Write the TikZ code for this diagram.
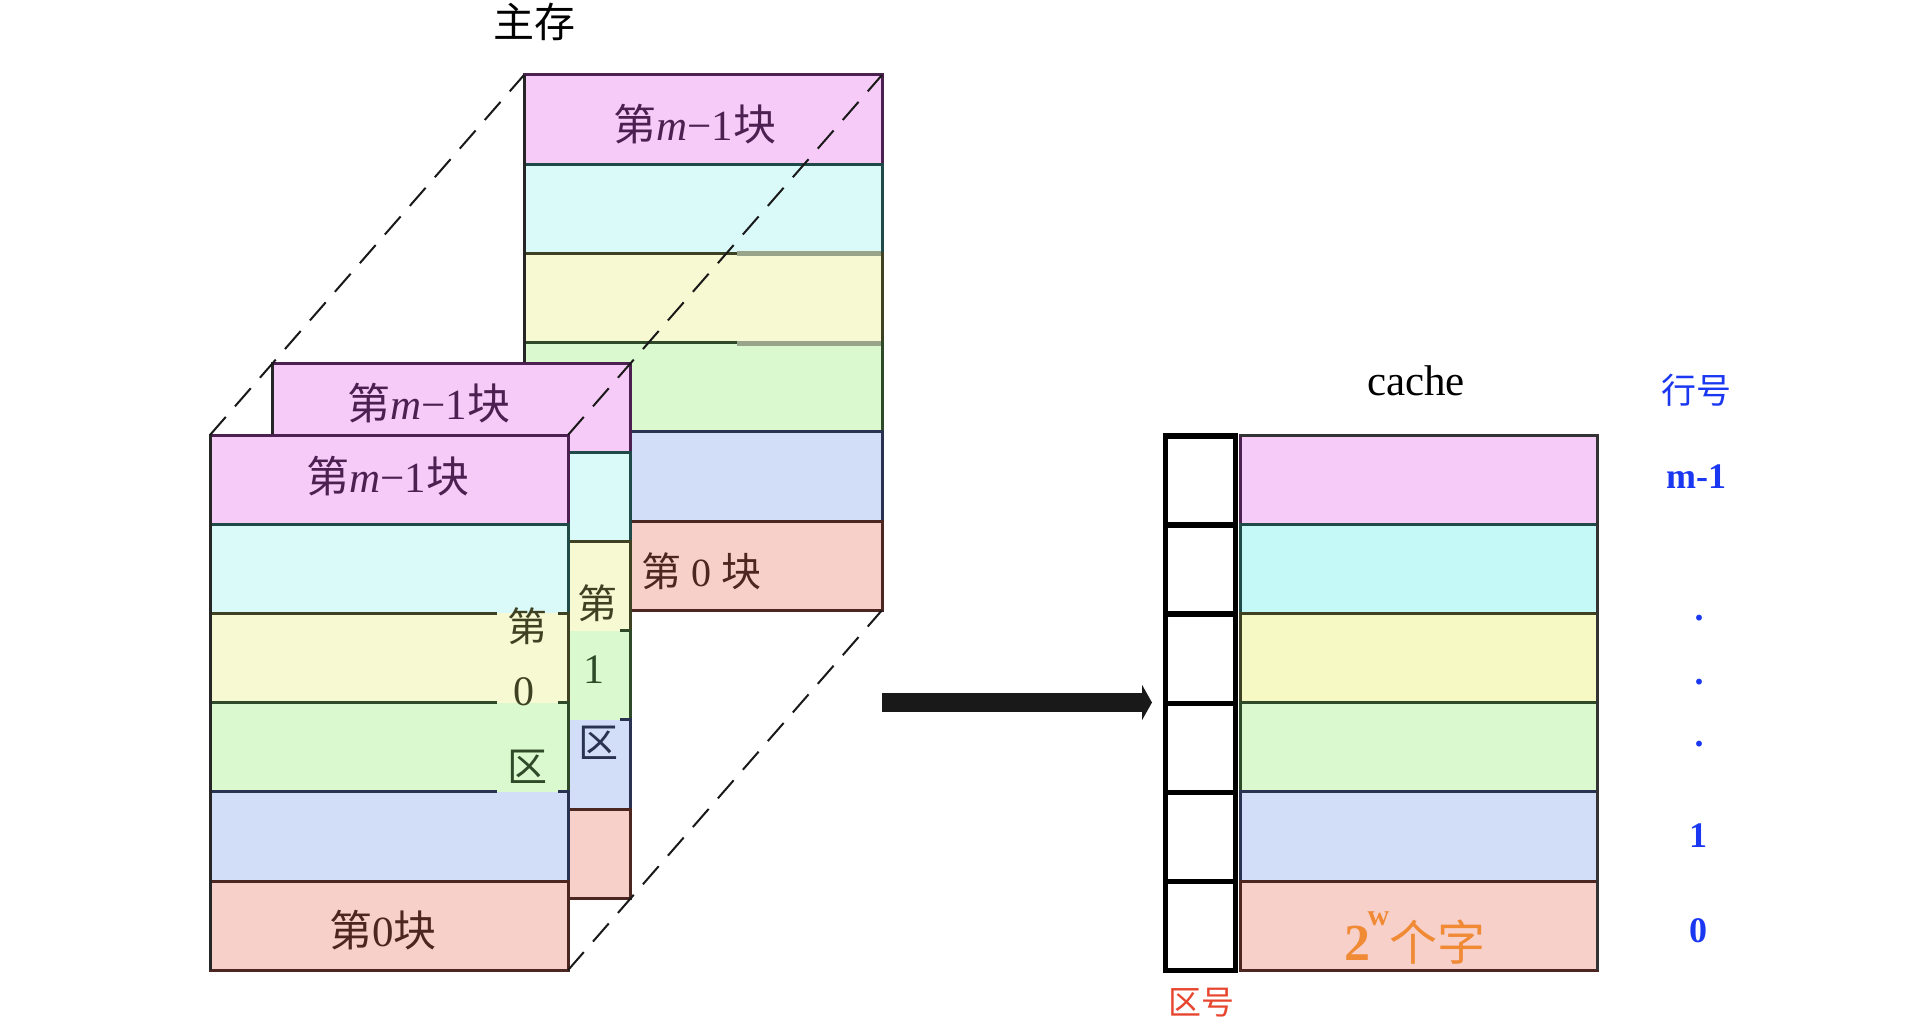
\documentclass[tikz,border=0pt]{standalone}
\usepackage{fontspec}
\setmainfont{Liberation Serif}
\newfontfamily\cjk{Noto Sans CJK SC}
\usetikzlibrary{arrows.meta}
\definecolor{pinkF}{HTML}{F7CBF8}
\definecolor{pinkD}{HTML}{4D2052}
\definecolor{cyanF}{HTML}{DAF9F9}
\definecolor{cyanC}{HTML}{C4F9F8}
\definecolor{cyanD}{HTML}{1F4A48}
\definecolor{yelF}{HTML}{F7F9D2}
\definecolor{yelC}{HTML}{F6F9C4}
\definecolor{yelD}{HTML}{3E4222}
\definecolor{grnF}{HTML}{DAF9CE}
\definecolor{grnD}{HTML}{2E4A28}
\definecolor{bluF}{HTML}{D2DEF8}
\definecolor{bluD}{HTML}{2A3252}
\definecolor{redF}{HTML}{F8D0CA}
\definecolor{redD}{HTML}{4C2620}
\definecolor{lblue}{HTML}{1A38F2}
\definecolor{lred}{HTML}{E8452E}
\definecolor{lorange}{HTML}{F08A35}
\definecolor{artif}{HTML}{98A58A}
\newcommand\memstack[3]{%
  \foreach \f/\d [count=\i from 0] in {pinkF/pinkD,#3/cyanD,yelF/yelD,grnF/grnD,bluF/bluD,redF/redD}{
    \filldraw[fill=\f, draw=\d, line width=3pt] (#1,#2+\i*89.2) rectangle ++(358,89.2);
  }
  \draw[line width=3pt, draw=black!85] (#1,#2) -- ++(0,535.2);
}
\newcommand\gappatch[5]{% x1,x2,y,upper,lower
  \fill[#4] (#1,#3-2.2) rectangle (#2,#3);
  \fill[#5] (#1,#3) rectangle (#2,#3+2.2);
}
\tikzset{
  lbl/.style={inner sep=0pt, font=\fontsize{40}{44}\selectfont},
  blk/.style={inner sep=0pt, font=\fontsize{43}{46}\selectfont},
  dashline/.style={line width=2pt, draw=black!90, dash pattern=on 24pt off 14pt},
  tagcell/.style={line width=5.5pt, draw=black},
  rownum/.style={inner sep=0pt, anchor=base, text=lblue, font=\fontsize{36}{40}\selectfont\bfseries},
}
\begin{document}
\begin{tikzpicture}[x=1pt,y=-1pt]
\useasboundingbox (0,0) rectangle (1912,1032);
\fill[white] (0,0) rectangle (1912,1032);

% back stack
\memstack{524}{75}{cyanF}
\draw[artif, line width=5pt] (737,254) -- (881,254);
\draw[artif, line width=5pt] (737,343.4) -- (881,343.4);
% middle stack
\memstack{272.8}{363}{cyanF}
\gappatch{560}{620}{630.6}{yelF}{grnF}
\gappatch{560}{620}{719.8}{grnF}{bluF}
% front stack
\memstack{210}{435}{cyanF}
\gappatch{497}{558}{613.4}{cyanF}{yelF}
\gappatch{497}{558}{702.6}{yelF}{grnF}
\gappatch{497}{558}{791.8}{grnF}{bluF}

% corner coordinates
\coordinate (fTL) at (210,435);
\coordinate (fTR) at (568,435);
\coordinate (fBR) at (568,970.2);
\coordinate (bTL) at (524,75);
\coordinate (bTR) at (882,75);
\coordinate (bBR) at (882,610.2);
\draw[dashline] (fTL) -- (bTL);
\draw[dashline] (fTR) -- (bTR);
\draw[dashline] (fBR) -- (bBR);

% main memory labels
\node[lbl, font=\fontsize{41}{44}\selectfont\cjk] (title) at (534,22) {主存};
\node[blk, text=pinkD] (bm1) at (695,124) {{\cjk 第}\textit{m}−1{\cjk 块}};
\node[blk, text=pinkD] (mm1) at (429,403) {{\cjk 第}\textit{m}−1{\cjk 块}};
\node[blk, text=pinkD] (fm1) at (388,476) {{\cjk 第}\textit{m}−1{\cjk 块}};
\node[lbl, text=redD] (b0) at (701,571) {{\cjk 第} 0 {\cjk 块}};
\node[blk, text=redD] (f0) at (383,930) {{\cjk 第}0{\cjk 块}};
\node[lbl, text=yelD, font=\fontsize{40}{44}\selectfont\cjk] (fq1) at (527,626) {第};
\node[lbl, text=yelD, font=\fontsize{42}{44}\selectfont] (fq2) at (524,692) {0};
\node[lbl, text=grnD, font=\fontsize{40}{44}\selectfont\cjk] (fq3) at (527,767) {区};
\node[lbl, text=yelD, font=\fontsize{40}{44}\selectfont\cjk] (mq1) at (597,603) {第};
\node[lbl, text=grnD, font=\fontsize{42}{44}\selectfont] (mq2) at (594,670) {1};
\node[lbl, text=bluD, font=\fontsize{40}{44}\selectfont\cjk] (mq3) at (598,743) {区};

% arrow
\coordinate (arrS) at (882,702.5);
\coordinate (arrE) at (1152,702.5);
\draw[line width=19pt, draw=black!90, -{Triangle[length=10pt 0 0, width=35pt 0 0]}] (arrS) -- (arrE);

% cache data rows
\foreach \f/\d [count=\i from 0] in {pinkF/pinkD,cyanC/cyanD,yelC/yelD,grnF/grnD,bluF/bluD,redF/redD}{
  \filldraw[fill=\f, draw=\d, line width=3pt] (1240,435+\i*89.2) rectangle ++(357,89.2);
}
\draw[line width=3pt, draw=black!80] (1597,435) -- (1597,970.2);
\draw[line width=3pt, draw=black!80] (1240,435) -- (1597,435);
% tag cells
\foreach \i in {0,...,5}{
  \draw[tagcell] (1165.5,436+\i*89.1) rectangle ++(70,89.1);
}

% cache labels
\node[inner sep=0pt, anchor=base, font=\fontsize{43}{46}\selectfont] (cachelbl) at (1416,395) {cache};
\node[lbl, text=lblue, font=\fontsize{35}{40}\selectfont\cjk] (hanghao) at (1696,390) {行号};
\node[rownum] (rm1) at (1696,488) {m-1};
\node[rownum] (rd1) at (1699,620.5) {.};
\node[rownum] (rd2) at (1699,684.5) {.};
\node[rownum] (rd3) at (1699,746.5) {.};
\node[rownum] (r1) at (1698,847) {1};
\node[rownum] (r0) at (1698,942) {0};
\node[inner sep=0pt, anchor=base, text=lorange, font=\fontsize{52}{56}\selectfont\bfseries] (words) at (1415,960)
  {2\kern-3pt\raisebox{35pt}{\fontsize{30}{32}\selectfont w}{\mdseries\fontsize{48}{52}\selectfont\cjk 个字}};
\node[lbl, text=lred, font=\fontsize{33}{36}\selectfont\cjk] (quhao) at (1201,1003) {区号};
\end{tikzpicture}
\end{document}
